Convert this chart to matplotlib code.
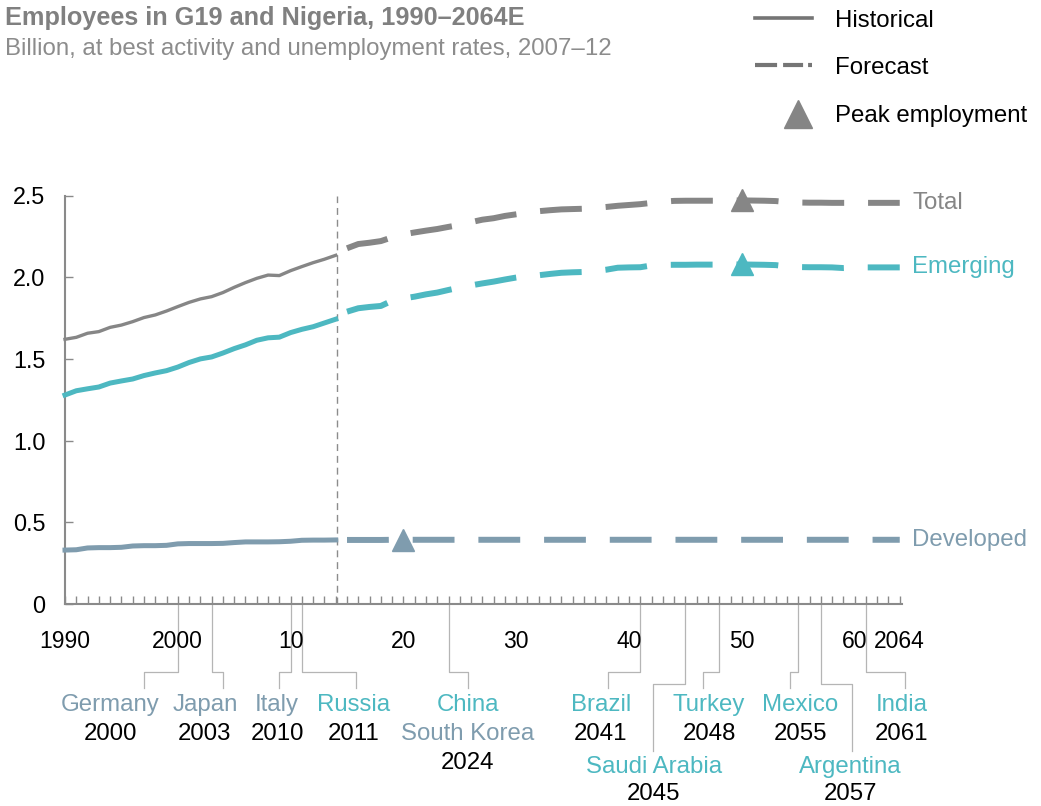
import matplotlib
matplotlib.use("Agg")
import matplotlib.pyplot as plt
from matplotlib import transforms
from matplotlib.lines import Line2D

plt.rcParams["font.family"] = ["Liberation Sans", "DejaVu Sans"]

# --- data (billion employees) ---
hist_years = list(range(1990, 2015))
fc_years = list(range(2015, 2065))

total_hist = [1.620, 1.632, 1.657, 1.667, 1.693, 1.707, 1.728, 1.753, 1.769, 1.793,
              1.820, 1.846, 1.867, 1.881, 1.906, 1.938, 1.967, 1.993, 2.013, 2.010,
              2.040, 2.065, 2.089, 2.110, 2.134]
emerging_hist = [1.279, 1.305, 1.317, 1.328, 1.352, 1.365, 1.377, 1.398, 1.414, 1.428,
                 1.450, 1.478, 1.500, 1.512, 1.536, 1.563, 1.586, 1.614, 1.629, 1.633,
                 1.661, 1.681, 1.697, 1.720, 1.743]
developed_hist = [0.330, 0.332, 0.343, 0.345, 0.345, 0.347, 0.355, 0.357, 0.357, 0.359,
                  0.368, 0.370, 0.370, 0.370, 0.371, 0.376, 0.380, 0.380, 0.380, 0.381,
                  0.384, 0.390, 0.391, 0.391, 0.392]

total_fc = [2.177, 2.203, 2.211, 2.221, 2.244, 2.262, 2.274, 2.285, 2.295, 2.308,
            2.320, 2.337, 2.352, 2.361, 2.375, 2.385, 2.395, 2.404, 2.410, 2.415,
            2.417, 2.419, 2.424, 2.430, 2.437, 2.442, 2.447, 2.455, 2.462, 2.467,
            2.468, 2.468, 2.468, 2.468, 2.469, 2.470, 2.469, 2.468, 2.466, 2.460,
            2.457, 2.456, 2.456, 2.455, 2.455, 2.455, 2.455, 2.455, 2.455, 2.455]
emerging_fc = [1.789, 1.810, 1.818, 1.824, 1.856, 1.870, 1.881, 1.895, 1.906, 1.922,
               1.937, 1.950, 1.962, 1.973, 1.986, 1.998, 2.008, 2.012, 2.020, 2.027,
               2.030, 2.032, 2.038, 2.046, 2.058, 2.060, 2.061, 2.072, 2.075, 2.076,
               2.076, 2.077, 2.077, 2.077, 2.078, 2.078, 2.077, 2.076, 2.074, 2.066,
               2.062, 2.061, 2.061, 2.060, 2.056, 2.058, 2.060, 2.060, 2.060, 2.060]
developed_fc = [0.392, 0.392, 0.392, 0.392, 0.393, 0.393, 0.393, 0.393, 0.393, 0.393,
                0.393, 0.393, 0.393, 0.393, 0.393, 0.393, 0.393, 0.393, 0.393, 0.393,
                0.393, 0.393, 0.393, 0.393, 0.393, 0.393, 0.393, 0.393, 0.393, 0.393,
                0.393, 0.393, 0.393, 0.393, 0.393, 0.393, 0.393, 0.393, 0.393, 0.393,
                0.393, 0.393, 0.393, 0.393, 0.393, 0.393, 0.393, 0.393, 0.393, 0.393]

series_names = ["Total", "Emerging", "Developed"]
peak_years_series = [2050, 2050, 2020]

# country peak-employment annotations below the axis
peak_years = [2000, 2003, 2010, 2011, 2024, 2041, 2045, 2048, 2055, 2057, 2061]
peak_names = [["Germany"], ["Japan"], ["Italy"], ["Russia"], ["China", "South Korea"],
              ["Brazil"], ["Saudi Arabia"], ["Turkey"], ["Mexico"], ["Argentina"], ["India"]]
peak_groups = [["Developed"], ["Developed"], ["Developed"], ["Emerging"],
               ["Emerging", "Developed"], ["Emerging"], ["Emerging"], ["Emerging"],
               ["Emerging"], ["Emerging"], ["Emerging"]]
label_x = [1994.0, 2002.4, 2008.8, 2015.6, 2025.7, 2037.5, 2042.2, 2047.1, 2055.2, 2059.6, 2064.2]
leader_x = [1997.0, 2004.0, 2009.0, 2015.8, 2025.7, 2038.1, 2042.1, 2046.6, 2054.3, 2059.8, 2064.5]
lowered = [False, False, False, False, False, False, True, False, False, True, False]

xtick_pos = [1990, 2000, 2010, 2020, 2030, 2040, 2050, 2060, 2064]
xtick_labels = ["1990", "2000", "10", "20", "30", "40", "50", "60", "2064"]
ytick_pos = [0, 0.5, 1.0, 1.5, 2.0, 2.5]
ytick_labels = ["0", "0.5", "1.0", "1.5", "2.0", "2.5"]

colors = {"Total": "#868686", "Emerging": "#4db8c1", "Developed": "#7f9cae"}
axis_gray = "#8a8a8a"
FS = 17.3

W, H = 1041, 806
fig = plt.figure(figsize=(W / 100, H / 100), dpi=100)
ax = fig.add_axes([65 / W, 1 - 604 / H, (902 - 65) / W, (604 - 195.5) / H])


def fy(py):
    return 1 - py / H


hist = {"Total": total_hist, "Emerging": emerging_hist, "Developed": developed_hist}
fc = {"Total": total_fc, "Emerging": emerging_fc, "Developed": developed_fc}
hist_lw = {"Total": 2.4, "Emerging": 3.6, "Developed": 3.6}

for name, peak in zip(series_names, peak_years_series):
    c = colors[name]
    ax.plot(hist_years, hist[name], color=c, lw=hist_lw[name],
            solid_joinstyle="round", clip_on=False, zorder=3)
    ax.plot(fc_years, fc[name], color=c, lw=4.3, ls=(0, (7, 4)),
            dash_capstyle="butt", clip_on=False, zorder=3)
    ax.plot([peak], [fc[name][fc_years.index(peak)]], marker="^", ms=16.5,
            color=c, mec=c, ls="none", clip_on=False, zorder=4)
    ax.text(2065.1, fc[name][-1], name, color=c, fontsize=FS,
            ha="left", va="center", clip_on=False)

ax.axvline(2014.1, color="#8c8c8c", lw=1.0, ls=(0, (5, 3.5)), zorder=2)

ax.set_xlim(1990, 2064.2)
ax.set_ylim(0, 2.5)
for s in ["top", "right"]:
    ax.spines[s].set_visible(False)
for s in ["left", "bottom"]:
    ax.spines[s].set_color(axis_gray)
    ax.spines[s].set_linewidth(1.5)

ax.set_xticks(xtick_pos, xtick_labels)
ax.set_xticks(range(1990, 2065), minor=True)
ax.set_yticks(ytick_pos, ytick_labels)
ax.tick_params(axis="x", which="both", direction="in", length=5.5, width=1,
               color=axis_gray, labelsize=16.5, pad=19)
ax.tick_params(axis="y", direction="in", length=5.5, width=1,
               color=axis_gray, labelsize=16.8, pad=14)

# leaders and country labels
trans = transforms.blended_transform_factory(ax.transData, fig.transFigure)
for yr, names, groups, lx, ldx, low in zip(peak_years, peak_names, peak_groups,
                                            label_x, leader_x, lowered):
    yh = 683.7 if low else 671.7
    ye = 750.5 if low else 688.3
    ax.plot([yr, yr, ldx, ldx], [fy(604), fy(yh), fy(yh), fy(ye)], transform=trans,
            color="#b5b5b5", lw=0.9, clip_on=False, zorder=1)
    base, step = (773, 27) if low else (711, 29)
    rows = [(n, colors[g]) for n, g in zip(names, groups)] + [(str(yr), "black")]
    for i, (txt, c) in enumerate(rows):
        ax.text(lx, fy(base + step * i), txt, transform=trans, color=c, fontsize=FS,
                ha="center", va="baseline", clip_on=False)

# title
fig.text(5 / W, fy(25), "Employees in G19 and Nigeria, 1990–2064E", fontsize=18.2,
         fontweight="bold", color="#808080", va="baseline")
fig.text(5 / W, fy(55), "Billion, at best activity and unemployment rates, 2007–12",
         fontsize=FS, color="#8c8c8c", va="baseline")

# legend
leg_gray = "#757575"
fig.add_artist(Line2D([755 / W, 812 / W], [fy(18), fy(18)], color=leg_gray, lw=2.6))
fig.add_artist(Line2D([755 / W, 812 / W], [fy(65), fy(65)], color=leg_gray, lw=3,
                      ls=(0, (5.3, 1.44, 4.8, 1.2, 0.96, 12)), dash_capstyle="butt"))
fig.add_artist(Line2D([798 / W], [fy(114)], marker="^", ms=19.5, color="#858585", ls="none"))
for txt, b in [("Historical", 27), ("Forecast", 74.5), ("Peak employment", 122)]:
    fig.text(835 / W, fy(b), txt, fontsize=FS, color="black", va="baseline")

fig.savefig("out.png", dpi=100)
